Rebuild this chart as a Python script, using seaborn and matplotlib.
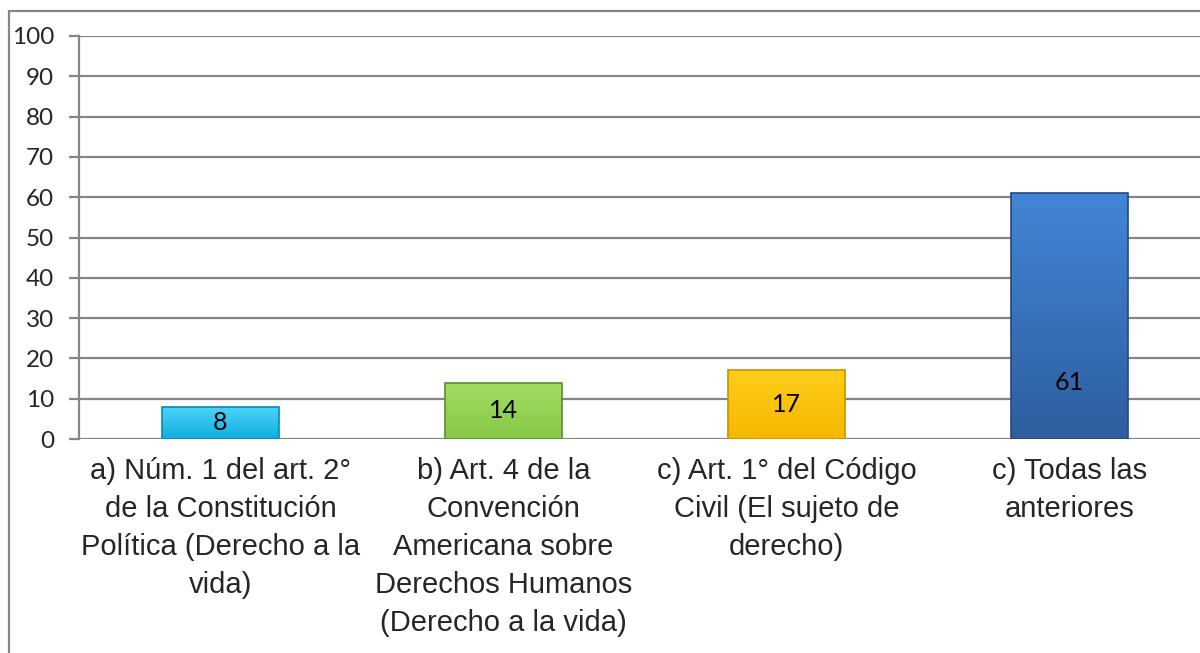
import numpy as np
import matplotlib
matplotlib.use('Agg')
from matplotlib import pyplot as plt
from matplotlib.colors import LinearSegmentedColormap
from matplotlib.patches import Rectangle
import pandas as pd
import seaborn as sns

# datos
categorias = ['a) Núm. 1 del art. 2°\nde la Constitución\nPolítica (Derecho a la\nvida)',
              'b) Art. 4 de la\nConvención\nAmericana sobre\nDerechos Humanos\n(Derecho a la vida)',
              'c) Art. 1° del Código\nCivil (El sujeto de\nderecho)',
              'c) Todas las\nanteriores']
valores = [8, 14, 17, 61]
colores = ['#1FBDEC', '#92D050', '#FFC000', '#3B76C4']
# degradado (claro arriba, oscuro abajo) y borde
claros = ['#4CD4F7', '#A2DD63', '#FFCD1A', '#4285D6']
oscuros = ['#10AEE0', '#86C946', '#F5B800', '#2E5E9E']
bordes = ['#0A87B5', '#5E8F2C', '#C79200', '#23497A']

df = pd.DataFrame({'cat': categorias, 'val': valores})

sns.set_style('white')
plt.rcParams['font.family'] = ['Lato', 'DejaVu Sans']

fig = plt.figure(figsize=(12, 6.53), dpi=100)
ax = fig.add_axes([79/1200, 1-439/653, 1132/1200, 403/653])

sns.barplot(data=df, x='cat', y='val', hue='cat', palette=colores, width=0.41,
            legend=False, ax=ax, zorder=3)

ax.set_ylim(0, 100)
ax.set_xlim(-0.5, 3.5)
ax.set_yticks(range(0, 101, 10))
ax.yaxis.grid(True, color='#868686', linewidth=1.6, zorder=0)
ax.set_axisbelow(True)
for s in ['top', 'right', 'bottom']:
    ax.spines[s].set_visible(False)
ax.spines['left'].set_color('#868686')
ax.spines['left'].set_linewidth(1.6)
ax.tick_params(axis='y', which='both', left=True, length=7, width=1.6,
               color='#868686', pad=11, labelsize=17.5)
ax.tick_params(axis='x', length=0, pad=13)
ax.set_xlabel('')
ax.set_ylabel('')
for lbl in ax.get_xticklabels():
    lbl.set_fontfamily(['Liberation Sans', 'DejaVu Sans'])
    lbl.set_fontsize(21)
    lbl.set_linespacing(1.45)

# degradado dentro de cada barra
for i, p in enumerate(ax.patches):
    x0, y0 = p.get_x(), p.get_y()
    w, h = p.get_width(), p.get_height()
    cmap = LinearSegmentedColormap.from_list('g', [oscuros[i], claros[i]])
    grad = np.linspace(0, 1, 64).reshape(-1, 1)
    im = ax.imshow(grad, cmap=cmap, extent=[x0, x0 + w, y0, y0 + h],
                   origin='lower', aspect='auto', zorder=3.5)
    im.set_clip_path(p)
    p.set_edgecolor(bordes[i])
    p.set_linewidth(1.2)
    p.set_zorder(4)
    p.set_facecolor('none')
    # etiqueta del valor
    ax.text(x0 + w/2, min(valores[i]/2, 14), str(valores[i]), ha='center',
            va='center', fontsize=18, color='black', zorder=5)

ax.set_xlim(-0.5, 3.5)
ax.set_ylim(0, 100)

# borde exterior del grafico
fig.patches.append(Rectangle((9/1200, -0.1), 1.2, 1 - 11/653 + 0.1,
                             transform=fig.transFigure, fill=False,
                             edgecolor='#868686', linewidth=1.6))

fig.savefig('out.png', dpi=100)
